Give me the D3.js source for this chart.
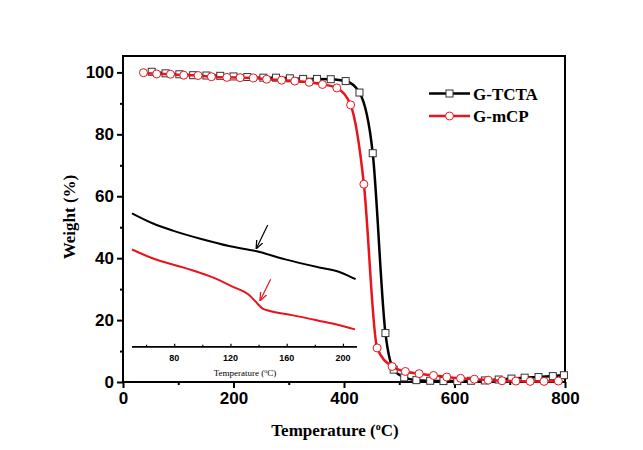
<!DOCTYPE html>
<html>
<head>
<meta charset="utf-8">
<script src="https://cdn.jsdelivr.net/npm/d3@7/dist/d3.min.js"></script>
<style>
body{margin:0;background:#fff}
</style>
</head>
<body>
<svg id="chart" width="643" height="450"></svg>
<script>
// main TGA curves (temperature in C, weight in %)
var tctaTemp=[52,77,102,127,151,176,200,225,254,277,302,326,351,376,403,428,452,475,490,509,531,556,580,605,630,655,680,703,727,752,778,798];
var tctaWeight=[100.2,99.7,99.4,99.1,99.0,98.9,98.7,98.5,98.3,98.3,98.1,97.9,97.9,97.8,97.2,93.5,73.9,15.8,4.0,1.5,0.6,0.4,0.3,0.3,0.4,0.5,0.8,1.1,1.4,1.6,1.9,2.2];
var mcpTemp=[37,61,86,110,136,160,188,212,236,260,287,311,337,361,387,412,436,460,487,511,536,562,586,611,636,661,686,711,737,762,788];
var mcpWeight=[99.9,99.5,99.4,99.1,99.0,98.6,98.4,98.3,98.2,97.8,97.5,97.2,96.8,96.1,95.0,89.5,63.9,11.0,5.0,3.4,2.7,2.1,1.6,1.2,0.9,0.6,0.4,0.3,0.2,0.2,0.3];

// inset curves (read against the main weight axis, inset has no y axis)
var insetTctaTemp=[50,65,79,100,119,138,159,183,197,204,209];
var insetTctaWeight=[54.5,51.2,48.9,46.1,43.9,42.3,39.6,37.0,35.6,34.3,33.2];
var insetMcpTemp=[50,65,88.6,107.4,121.5,133.3,138,142.7,147.4,163.8,182.7,196.8,208.6];
var insetMcpWeight=[42.8,39.9,36.7,33.8,30.8,28.1,25.9,23.8,23.0,21.6,19.8,18.4,17.0];
var arrowTcta=[[146.5,50.7],[138.5,43.2]];
var arrowMcp=[[148.6,33.2],[141.2,26.4]];

var xTicks=[0,200,400,600,800];
var xMinor=[100,300,500,700];
var yTicks=[0,20,40,60,80,100];
var yMinor=[10,30,50,70,90];
var insetTicks=[80,120,160,200];
var insetMinor=[60,100,140,180];
var seriesNames=["G-TCTA","G-mCP"];
var seriesColors=["#000000","#e8141b"];

var svg=d3.select("#chart");
var plotL=123,plotR=565,plotT=56,plotB=382;

var x=d3.scaleLinear().domain([0,800]).range([plotL,plotR]);
var y=d3.scaleLinear().domain([0,105.3]).range([plotB,plotT]);
var xi=d3.scaleLinear().domain([50,210]).range([132,357]);

var zip=function(a,b){return a.map(function(d,i){return [d,b[i]];});};
var tcta=zip(tctaTemp,tctaWeight);
var mcp=zip(mcpTemp,mcpWeight);

// axes
var axes=svg.append("g");
axes.append("g").attr("transform","translate(0,"+plotB+")")
	.call(d3.axisBottom(x).tickValues(xTicks).tickSize(6).tickPadding(4));
axes.append("g").attr("transform","translate(0,"+plotB+")")
	.call(d3.axisBottom(x).tickValues(xMinor).tickSize(3).tickFormat(""));
axes.append("g").attr("transform","translate("+plotL+",0)")
	.call(d3.axisLeft(y).tickValues(yTicks).tickSize(6).tickPadding(3));
axes.append("g").attr("transform","translate("+plotL+",0)")
	.call(d3.axisLeft(y).tickValues(yMinor).tickSize(3).tickFormat(""));
axes.selectAll(".domain").remove();
axes.selectAll(".tick line").attr("stroke","#000").attr("stroke-width",2);
axes.selectAll(".tick text").attr("fill","#000")
	.style("font-family","'Liberation Sans',Arial,sans-serif")
	.style("font-weight","bold").style("font-size","17px");

svg.append("rect").attr("x",plotL).attr("y",plotT)
	.attr("width",plotR-plotL).attr("height",plotB-plotT)
	.attr("fill","none").attr("stroke","#000").attr("stroke-width",2);

svg.append("text").attr("x",335).attr("y",436).attr("text-anchor","middle")
	.style("font-family","'Liberation Serif','Times New Roman',serif")
	.style("font-weight","bold").style("font-size","17px")
	.html("Temperature (<tspan dy='-6' font-size='10px'>o</tspan><tspan dy='6'>C)</tspan>");
svg.append("text").attr("transform","translate(75,217) rotate(-90)").attr("text-anchor","middle")
	.style("font-family","'Liberation Serif','Times New Roman',serif")
	.style("font-weight","bold").style("font-size","17px")
	.text("Weight (%)");

// inset
var insetAxis=svg.append("g").attr("transform","translate(0,346.7)");
insetAxis.call(d3.axisTop(xi).tickValues(insetTicks).tickSize(3).tickFormat(""));
insetAxis.append("g").call(d3.axisTop(xi).tickValues(insetMinor).tickSize(2).tickFormat(""));
insetAxis.selectAll(".domain").attr("stroke","#000").attr("stroke-width",1.5).attr("d","M132,0H357");
insetAxis.selectAll(".tick line").attr("stroke","#000").attr("stroke-width",1.2);
svg.append("g").selectAll("text").data(insetTicks).enter().append("text")
	.attr("x",function(d){return xi(d);}).attr("y",361).attr("text-anchor","middle")
	.style("font-family","'Liberation Sans',Arial,sans-serif")
	.style("font-weight","bold").style("font-size","9px")
	.text(function(d){return d;});
svg.append("text").attr("x",245).attr("y",376).attr("text-anchor","middle")
	.style("font-family","'Liberation Serif','Times New Roman',serif")
	.style("font-size","9px")
	.html("Temperature (<tspan dy='-3' font-size='6px'>o</tspan><tspan dy='3'>C)</tspan>");

var insetLine=d3.line().x(function(d){return xi(d[0]);}).y(function(d){return y(d[1]);}).curve(d3.curveMonotoneX);
svg.append("path").datum(zip(insetTctaTemp,insetTctaWeight)).attr("d",insetLine)
	.attr("fill","none").attr("stroke",seriesColors[0]).attr("stroke-width",2);
svg.append("path").datum(zip(insetMcpTemp,insetMcpWeight)).attr("d",insetLine)
	.attr("fill","none").attr("stroke",seriesColors[1]).attr("stroke-width",2);

var defs=svg.append("defs");
seriesColors.forEach(function(c,i){
	defs.append("marker").attr("id","arr"+i).attr("viewBox","0 0 10 10").attr("refX",9).attr("refY",5)
		.attr("markerWidth",7).attr("markerHeight",7).attr("orient","auto-start-reverse")
		.append("path").attr("d","M0,1L10,5L0,9").attr("fill","none").attr("stroke",c).attr("stroke-width",1.5);
});
[arrowTcta,arrowMcp].forEach(function(a,i){
	svg.append("line").attr("x1",xi(a[0][0])).attr("y1",y(a[0][1]))
		.attr("x2",xi(a[1][0])).attr("y2",y(a[1][1]))
		.attr("stroke",seriesColors[i]).attr("stroke-width",1.2).attr("marker-end","url(#arr"+i+")");
});

// main curves
var line=d3.line().x(function(d){return x(d[0]);}).y(function(d){return y(d[1]);}).curve(d3.curveMonotoneX);
var drawSeries=function(data,color,shape)
	{
	svg.append("path").datum(data).attr("d",line)
		.attr("fill","none").attr("stroke",color).attr("stroke-width",2.5);
	var g=svg.append("g");
	if(shape=="square")
		{
		g.selectAll("rect").data(data).enter().append("rect")
			.attr("x",function(d){return x(d[0])-3.5;}).attr("y",function(d){return y(d[1])-3.5;})
			.attr("width",7).attr("height",7)
			.attr("fill","#fff").attr("stroke","#333").attr("stroke-width",1);
		}
	else
		{
		g.selectAll("circle").data(data).enter().append("circle")
			.attr("cx",function(d){return x(d[0]);}).attr("cy",function(d){return y(d[1]);})
			.attr("r",4).attr("fill","#fff").attr("stroke",color).attr("stroke-width",1);
		}
	};
drawSeries(tcta,seriesColors[0],"square");
drawSeries(mcp,seriesColors[1],"circle");

// legend
var legend=svg.append("g");
seriesNames.forEach(function(n,i){
	var ly=93.5+i*22.5;
	legend.append("line").attr("x1",429).attr("x2",470).attr("y1",ly).attr("y2",ly)
		.attr("stroke",seriesColors[i]).attr("stroke-width",2.5);
	if(i==0)legend.append("rect").attr("x",446).attr("y",ly-3.5).attr("width",7).attr("height",7)
		.attr("fill","#fff").attr("stroke","#333").attr("stroke-width",1);
	else legend.append("circle").attr("cx",449.5).attr("cy",ly).attr("r",4)
		.attr("fill","#fff").attr("stroke",seriesColors[i]).attr("stroke-width",1);
	legend.append("text").attr("x",473).attr("y",ly+6)
		.style("font-family","'Liberation Serif','Times New Roman',serif")
		.style("font-weight","bold").style("font-size","17px")
		.text(n);
});
</script>
</body>
</html>
